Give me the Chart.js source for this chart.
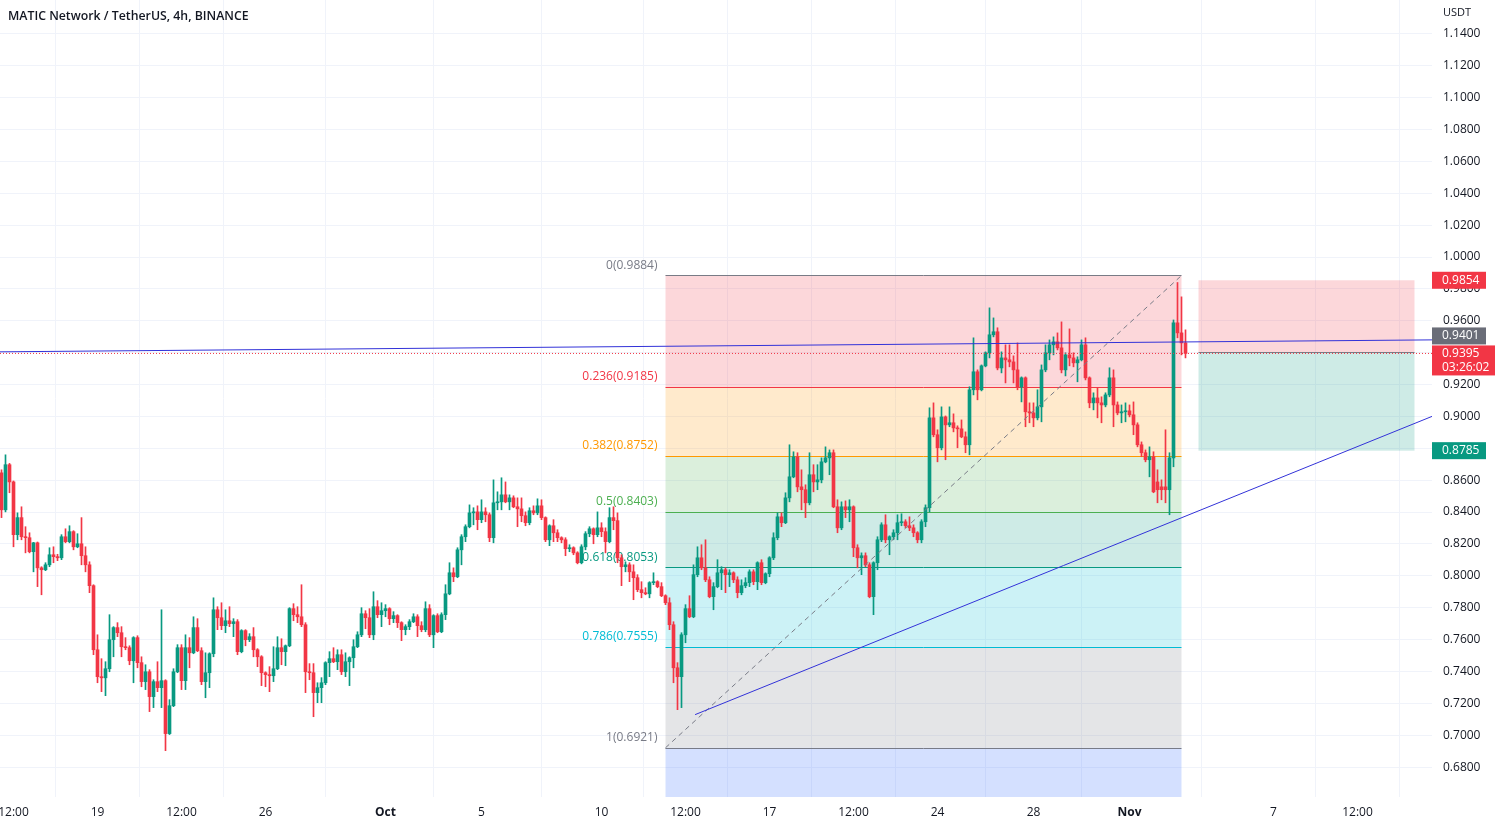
<!DOCTYPE html>
<html><head><meta charset="utf-8">
<script src="https://cdn.jsdelivr.net/npm/chart.js@4.4.0/dist/chart.umd.min.js"></script>
<style>html,body{margin:0;padding:0;background:#fff;}#wrap{position:relative;width:1500px;height:826px;}canvas{display:block;}</style>
</head><body><div id="wrap"><canvas id="c" width="1500" height="826"></canvas></div>
<script>
// ---- data: MATIC/USDT 4h candles (Sep 15 00:00 .. Nov 3 08:00) ----
const openP = [
0.8646,0.8414,0.8697,0.8589,0.8258,0.8365,0.8245,0.8239,0.8151,0.8207,
0.8050,0.8038,0.8069,0.8132,0.8120,0.8113,0.8245,0.8214,0.8277,0.8182,
0.8201,0.8126,0.8069,0.7938,0.7536,0.7367,0.7360,0.7417,0.7599,0.7675,
0.7643,0.7555,0.7549,0.7467,0.7612,0.7455,0.7336,0.7398,0.7242,0.7336,
0.7298,0.7342,0.7010,0.7185,0.7398,0.7549,0.7342,0.7549,0.7517,0.7675,
0.7530,0.7336,0.7392,0.7511,0.7787,0.7737,0.7687,0.7718,0.7700,0.7712,
0.7524,0.7656,0.7599,0.7618,0.7536,0.7492,0.7392,0.7380,0.7373,0.7417,
0.7549,0.7524,0.7561,0.7794,0.7756,0.7743,0.7693,0.7398,0.7392,0.7267,
0.7298,0.7329,0.7455,0.7480,0.7461,0.7505,0.7398,0.7461,0.7486,0.7555,
0.7630,0.7762,0.7737,0.7630,0.7806,0.7756,0.7781,0.7794,0.7731,0.7750,
0.7706,0.7662,0.7681,0.7712,0.7743,0.7687,0.7662,0.7794,0.7630,0.7750,
0.7649,0.7756,0.7887,0.8019,0.7994,0.8163,0.8245,0.8308,0.8395,0.8401,
0.8352,0.8401,0.8383,0.8239,0.8458,0.8464,0.8508,0.8464,0.8489,0.8433,
0.8420,0.8377,0.8333,0.8408,0.8395,0.8439,0.8365,0.8226,0.8314,0.8270,
0.8239,0.8226,0.8170,0.8176,0.8144,0.8082,0.8182,0.8264,0.8295,0.8258,
0.8301,0.8277,0.8214,0.8365,0.8346,0.8113,0.8057,0.8069,0.8025,0.7988,
0.7913,0.7894,0.7887,0.7957,0.7963,0.7932,0.7875,0.7831,0.7693,0.7423,
0.7367,0.7630,0.7794,0.7743,0.8007,0.8113,0.8050,0.7975,0.7869,0.7932,
0.8019,0.8038,0.8007,0.8019,0.7975,0.7894,0.7938,0.7957,0.8025,0.7963,
0.8082,0.7957,0.8013,0.8113,0.8239,0.8370,0.8333,0.8489,0.8621,0.8747,
0.8558,0.8540,0.8458,0.8634,0.8589,0.8602,0.8715,0.8740,0.8772,0.8433,
0.8301,0.8433,0.8414,0.8433,0.8176,0.8113,0.8126,0.8069,0.7869,0.8082,
0.8226,0.8320,0.8226,0.8245,0.8270,0.8333,0.8339,0.8314,0.8301,0.8270,
0.8226,0.8339,0.8427,0.8991,0.8885,0.8803,0.8997,0.8947,0.8960,0.8928,
0.8922,0.8872,0.8822,0.9167,0.9280,0.9167,0.9317,0.9399,0.9512,0.9531,
0.9304,0.9367,0.9355,0.9342,0.9292,0.9185,0.9242,0.9029,0.9022,0.8991,
0.9060,0.9292,0.9399,0.9449,0.9468,0.9430,0.9292,0.9386,0.9367,0.9336,
0.9355,0.9449,0.9242,0.9085,0.9116,0.9085,0.9072,0.9135,0.9242,0.9072,
0.9022,0.9029,0.9035,0.9010,0.8947,0.8822,0.8772,0.8728,0.8747,0.8589,
0.8558,0.8558,0.8540,0.8740,0.9587,0.9524,0.9461];
const highP = [
0.8665,0.8759,0.8705,0.8595,0.8395,0.8433,0.8308,0.8270,0.8210,0.8212,
0.8057,0.8082,0.8176,0.8182,0.8135,0.8258,0.8295,0.8314,0.8283,0.8264,
0.8365,0.8182,0.8088,0.7944,0.7630,0.7480,0.7461,0.7756,0.7681,0.7706,
0.7681,0.7612,0.7561,0.7618,0.7624,0.7492,0.7442,0.7411,0.7348,0.7461,
0.7787,0.7348,0.7223,0.7417,0.7568,0.7568,0.7630,0.7612,0.7743,0.7731,
0.7549,0.7517,0.7517,0.7862,0.7806,0.7831,0.7787,0.7806,0.7731,0.7725,
0.7662,0.7662,0.7637,0.7675,0.7543,0.7499,0.7398,0.7430,0.7555,0.7618,
0.7605,0.7566,0.7800,0.7825,0.7806,0.7944,0.7706,0.7449,0.7449,0.7329,
0.7361,0.7461,0.7524,0.7549,0.7536,0.7536,0.7517,0.7492,0.7599,0.7649,
0.7800,0.7781,0.7794,0.7900,0.7844,0.7831,0.7819,0.7800,0.7775,0.7756,
0.7712,0.7693,0.7725,0.7762,0.7756,0.7712,0.7837,0.7819,0.7756,0.7762,
0.7768,0.7944,0.8082,0.8050,0.8176,0.8258,0.8320,0.8445,0.8427,0.8439,
0.8477,0.8427,0.8395,0.8602,0.8527,0.8615,0.8589,0.8508,0.8502,0.8489,
0.8489,0.8401,0.8427,0.8439,0.8483,0.8477,0.8370,0.8320,0.8352,0.8289,
0.8245,0.8239,0.8195,0.8182,0.8151,0.8195,0.8277,0.8308,0.8301,0.8401,
0.8333,0.8301,0.8427,0.8433,0.8395,0.8132,0.8088,0.8082,0.8069,0.8007,
0.7963,0.7925,0.7963,0.8019,0.7969,0.7957,0.7881,0.7862,0.7712,0.7455,
0.7643,0.7819,0.7875,0.8069,0.8182,0.8195,0.8226,0.7994,0.7957,0.8101,
0.8057,0.8050,0.8038,0.8025,0.7994,0.7975,0.7988,0.8038,0.8038,0.8088,
0.8101,0.8019,0.8120,0.8270,0.8395,0.8395,0.8521,0.8822,0.8778,0.8772,
0.8665,0.8571,0.8772,0.8697,0.8697,0.8740,0.8809,0.8790,0.8790,0.8477,
0.8464,0.8470,0.8477,0.8439,0.8195,0.8144,0.8144,0.8082,0.8088,0.8245,
0.8333,0.8383,0.8251,0.8289,0.8383,0.8389,0.8352,0.8370,0.8320,0.8277,
0.8352,0.8445,0.9054,0.9085,0.8916,0.9060,0.9003,0.9060,0.9016,0.8941,
0.8978,0.8903,0.9186,0.9493,0.9292,0.9323,0.9405,0.9681,0.9618,0.9556,
0.9405,0.9449,0.9449,0.9380,0.9461,0.9248,0.9248,0.9085,0.9085,0.9167,
0.9323,0.9449,0.9480,0.9499,0.9524,0.9593,0.9399,0.9549,0.9399,0.9374,
0.9480,0.9493,0.9248,0.9148,0.9179,0.9123,0.9148,0.9305,0.9292,0.9091,
0.9072,0.9085,0.9072,0.9091,0.8960,0.8840,0.8790,0.8809,0.8778,0.8665,
0.8602,0.8916,0.8772,0.9605,0.9840,0.9750,0.9543];
const lowP = [
0.8365,0.8401,0.8521,0.8182,0.8226,0.8226,0.8144,0.8144,0.8025,0.7932,
0.7881,0.8032,0.8057,0.8082,0.8095,0.8101,0.8207,0.8207,0.8163,0.8176,
0.8069,0.8025,0.7894,0.7505,0.7329,0.7273,0.7248,0.7398,0.7492,0.7618,
0.7492,0.7536,0.7442,0.7329,0.7423,0.7304,0.7286,0.7148,0.7173,0.7273,
0.7173,0.6903,0.7004,0.7179,0.7392,0.7286,0.7286,0.7423,0.7511,0.7524,
0.7317,0.7235,0.7298,0.7492,0.7662,0.7662,0.7643,0.7681,0.7618,0.7505,
0.7517,0.7561,0.7587,0.7492,0.7430,0.7311,0.7304,0.7273,0.7336,0.7411,
0.7442,0.7436,0.7555,0.7718,0.7706,0.7681,0.7267,0.7348,0.7116,0.7204,
0.7204,0.7317,0.7367,0.7455,0.7411,0.7380,0.7367,0.7311,0.7423,0.7549,
0.7618,0.7668,0.7612,0.7599,0.7737,0.7681,0.7743,0.7693,0.7706,0.7675,
0.7593,0.7630,0.7662,0.7706,0.7618,0.7649,0.7649,0.7618,0.7549,0.7643,
0.7643,0.7725,0.7881,0.7963,0.7988,0.8069,0.8214,0.8301,0.8320,0.8289,
0.8333,0.8339,0.8214,0.8207,0.8414,0.8414,0.8458,0.8414,0.8427,0.8308,
0.8339,0.8314,0.8320,0.8383,0.8383,0.8352,0.8214,0.8189,0.8214,0.8214,
0.8207,0.8126,0.8151,0.8132,0.8075,0.8075,0.8163,0.8245,0.8201,0.8245,
0.8245,0.8144,0.8207,0.8289,0.8082,0.7938,0.8025,0.7963,0.7850,0.7900,
0.7862,0.7881,0.7862,0.7944,0.7925,0.7869,0.7819,0.7662,0.7329,0.7160,
0.7173,0.7580,0.7737,0.7737,0.7994,0.8038,0.7963,0.7862,0.7787,0.7925,
0.7913,0.7894,0.7932,0.7957,0.7862,0.7881,0.7925,0.7932,0.7944,0.7913,
0.7944,0.7950,0.7994,0.8101,0.8226,0.8308,0.8327,0.8464,0.8615,0.8527,
0.8414,0.8365,0.8445,0.8527,0.8540,0.8583,0.8709,0.8634,0.8427,0.8270,
0.8289,0.8365,0.8339,0.8120,0.8050,0.8007,0.8057,0.7862,0.7756,0.8038,
0.8214,0.8207,0.8132,0.8226,0.8226,0.8314,0.8301,0.8283,0.8245,0.8207,
0.8207,0.8308,0.8401,0.8872,0.8715,0.8790,0.8728,0.8935,0.8903,0.8803,
0.8866,0.8772,0.8759,0.9135,0.9104,0.9160,0.9311,0.9367,0.9499,0.9292,
0.9273,0.9210,0.9311,0.9210,0.9167,0.9091,0.8935,0.8960,0.8935,0.8978,
0.8966,0.9280,0.9355,0.9386,0.9417,0.9273,0.9254,0.9317,0.9311,0.9217,
0.9348,0.9229,0.9054,0.9041,0.8991,0.8960,0.9060,0.9123,0.8935,0.9010,
0.8960,0.8966,0.8997,0.8885,0.8809,0.8747,0.8715,0.8621,0.8521,0.8458,
0.8477,0.8458,0.8383,0.8684,0.9493,0.9386,0.9367];
const closeP = [
0.8414,0.8697,0.8589,0.8258,0.8365,0.8245,0.8239,0.8151,0.8207,0.8050,
0.8038,0.8069,0.8132,0.8120,0.8113,0.8245,0.8214,0.8277,0.8182,0.8201,
0.8126,0.8069,0.7938,0.7536,0.7367,0.7360,0.7417,0.7599,0.7675,0.7643,
0.7555,0.7549,0.7467,0.7612,0.7455,0.7336,0.7398,0.7242,0.7336,0.7298,
0.7342,0.7010,0.7185,0.7398,0.7549,0.7342,0.7549,0.7517,0.7675,0.7530,
0.7336,0.7392,0.7511,0.7787,0.7737,0.7687,0.7718,0.7700,0.7712,0.7524,
0.7656,0.7599,0.7618,0.7536,0.7492,0.7392,0.7380,0.7373,0.7417,0.7549,
0.7524,0.7561,0.7794,0.7756,0.7743,0.7693,0.7398,0.7392,0.7267,0.7298,
0.7329,0.7455,0.7480,0.7461,0.7505,0.7398,0.7461,0.7486,0.7555,0.7630,
0.7762,0.7737,0.7630,0.7806,0.7756,0.7781,0.7794,0.7731,0.7750,0.7706,
0.7662,0.7681,0.7712,0.7743,0.7687,0.7662,0.7794,0.7630,0.7750,0.7649,
0.7756,0.7887,0.8019,0.7994,0.8163,0.8245,0.8308,0.8395,0.8401,0.8352,
0.8401,0.8383,0.8239,0.8458,0.8464,0.8508,0.8464,0.8489,0.8433,0.8420,
0.8377,0.8333,0.8408,0.8395,0.8439,0.8365,0.8226,0.8314,0.8270,0.8239,
0.8226,0.8170,0.8176,0.8144,0.8082,0.8182,0.8264,0.8295,0.8258,0.8301,
0.8277,0.8214,0.8365,0.8346,0.8113,0.8057,0.8069,0.8025,0.7988,0.7913,
0.7894,0.7887,0.7957,0.7963,0.7932,0.7875,0.7831,0.7693,0.7423,0.7367,
0.7630,0.7794,0.7743,0.8007,0.8113,0.8050,0.7975,0.7869,0.7932,0.8019,
0.8038,0.8007,0.8019,0.7975,0.7894,0.7938,0.7957,0.8025,0.7963,0.8082,
0.7957,0.8013,0.8113,0.8239,0.8370,0.8333,0.8489,0.8621,0.8747,0.8558,
0.8540,0.8458,0.8634,0.8589,0.8602,0.8715,0.8740,0.8772,0.8433,0.8301,
0.8433,0.8414,0.8433,0.8176,0.8113,0.8126,0.8069,0.7869,0.8082,0.8226,
0.8320,0.8226,0.8245,0.8270,0.8333,0.8339,0.8314,0.8301,0.8270,0.8226,
0.8339,0.8427,0.8991,0.8885,0.8803,0.8997,0.8947,0.8960,0.8928,0.8922,
0.8872,0.8822,0.9167,0.9280,0.9167,0.9317,0.9399,0.9512,0.9531,0.9304,
0.9367,0.9355,0.9342,0.9292,0.9185,0.9242,0.9029,0.9022,0.8991,0.9060,
0.9292,0.9399,0.9449,0.9468,0.9430,0.9292,0.9386,0.9367,0.9336,0.9355,
0.9449,0.9242,0.9085,0.9116,0.9085,0.9072,0.9135,0.9242,0.9072,0.9022,
0.9029,0.9035,0.9010,0.8947,0.8822,0.8772,0.8728,0.8747,0.8527,0.8540,
0.8540,0.8540,0.8740,0.9587,0.9524,0.9461,0.9395];

// x axis ticks (candle index -> label)
const xTickIdx = [3, 24, 45, 66, 96, 120, 150, 171, 192, 213, 234, 258, 282, 318, 339];
const xTickLabels = ['12:00','19','12:00','26','Oct','5','10','12:00','17','12:00','24','28','Nov','7','12:00'];
const boldLabels = ['Oct','Nov'];
// price axis ticks
const priceTicks = [0.68,0.70,0.72,0.74,0.76,0.78,0.80,0.82,0.84,0.86,0.88,0.90,0.92,0.94,0.96,0.98,1.00,1.02,1.04,1.06,1.08,1.10,1.12,1.14];

// Fibonacci retracement
const fibLevels = [0, 0.236, 0.382, 0.5, 0.618, 0.786, 1, 1.618];
const fibPrices = [0.9884, 0.9185, 0.8752, 0.8403, 0.8053, 0.7555, 0.6921, 0.5090];
const fibColors = ['#787b86','#f23645','#ff9800','#4caf50','#089981','#00bcd4','#787b86','#2962ff'];
const fibRange = [166, 295];

// drawings
const diagX = [166, 295], diagY = [0.6921, 0.9884];
const trendX = [173.4, 357.625], trendY = [0.7129, 0.9000];
const resX = [-0.375, 357.625], resY = [0.9405, 0.9480];
const lastPrice = 0.9395, countdown = '03:26:02';
const posX = [299.25, 353.25];
const posStop = 0.9854, posEntry = 0.9401, posTarget = 0.8785;

// ---- chart ----
const GREEN = '#089981', RED = '#f23645', TXT = '#131722', GRID = '#f0f3fa';
const FONT = "'Open Sans', 'Noto Sans', sans-serif";
Chart.defaults.font.family = FONT;
const idx = closeP.map((_, i) => i);
const candleColor = c => closeP[c.dataIndex] >= openP[c.dataIndex] ? GREEN : RED;
function rgba(hex, a) {
  const n = parseInt(hex.slice(1), 16);
  return `rgba(${(n >> 16) & 255},${(n >> 8) & 255},${n & 255},${a})`;
}
function noPad(s) { s.paddingLeft = 0; s.paddingRight = 0; s.paddingTop = 0; s.paddingBottom = 0; }

const overlayPlugin = {
  id: 'overlay',
  beforeDatasetsDraw(chart) {
    const { ctx, chartArea: a, scales: { x, y } } = chart;
    ctx.save();
    ctx.beginPath(); ctx.rect(a.left, a.top, a.right - a.left, a.bottom - a.top); ctx.clip();
    const x0 = x.getPixelForValue(fibRange[0]), x1 = x.getPixelForValue(fibRange[1]);
    for (let k = 0; k < fibPrices.length - 1; k++) {
      const ya = y.getPixelForValue(fibPrices[k]), yb = y.getPixelForValue(fibPrices[k + 1]);
      ctx.fillStyle = rgba(fibColors[k + 1], 0.2);
      ctx.fillRect(x0, ya, x1 - x0, yb - ya);
    }
    ctx.lineWidth = 1;
    for (let k = 0; k < fibPrices.length; k++) {
      const yy = Math.round(y.getPixelForValue(fibPrices[k])) + 0.5;
      ctx.strokeStyle = fibColors[k];
      ctx.beginPath(); ctx.moveTo(x0, yy); ctx.lineTo(x1, yy); ctx.stroke();
    }
    ctx.font = `12px ${FONT}`;
    ctx.textAlign = 'right'; ctx.textBaseline = 'middle';
    for (let k = 0; k < fibLevels.length - 1; k++) {
      const yy = y.getPixelForValue(fibPrices[k]);
      ctx.fillStyle = fibColors[k];
      ctx.fillText(`${fibLevels[k]}(${fibPrices[k].toFixed(4)})`, x0 - 8, yy - 10);
    }
    // short position tool
    const p0 = x.getPixelForValue(posX[0]), p1 = x.getPixelForValue(posX[1]);
    const ys = y.getPixelForValue(posStop), ye = y.getPixelForValue(posEntry), yt = y.getPixelForValue(posTarget);
    ctx.fillStyle = rgba(RED, 0.2); ctx.fillRect(p0, ys, p1 - p0, ye - ys);
    ctx.fillStyle = rgba(GREEN, 0.2); ctx.fillRect(p0, ye, p1 - p0, yt - ye);
    ctx.strokeStyle = '#787b86';
    ctx.beginPath(); ctx.moveTo(p0, Math.round(ye) + 0.5); ctx.lineTo(p1, Math.round(ye) + 0.5); ctx.stroke();
    ctx.restore();
  },
  afterDraw(chart) {
    const { ctx, chartArea: a, scales: { y } } = chart;
    ctx.save();
    ctx.textBaseline = 'middle'; ctx.textAlign = 'left';
    const L = a.right;
    const box = (yc, h, w, color, lines) => {
      ctx.fillStyle = color;
      ctx.fillRect(L, yc - h / 2, w, h);
      ctx.fillStyle = '#ffffff';
      ctx.font = `12px ${FONT}`;
      lines.forEach((t, i) => ctx.fillText(t, L + 10, yc - (lines.length - 1) * 7 + i * 14));
    };
    const yLast = y.getPixelForValue(lastPrice);
    box(y.getPixelForValue(posStop), 17, 54, RED, [posStop.toFixed(4)]);
    box(y.getPixelForValue(posTarget), 17, 54, GREEN, [posTarget.toFixed(4)]);
    const lastTop = yLast - 8;
    box(lastTop + 15, 30, 63, RED, [lastPrice.toFixed(4), countdown]);
    box(lastTop - 1 - 8.5, 17, 54, '#6a6d78', [posEntry.toFixed(4)]);
    ctx.fillStyle = TXT;
    ctx.font = `11px ${FONT}`;
    ctx.fillText('USDT', L + 11, 13);
    ctx.font = `600 12.3px ${FONT}`;
    ctx.fillText('MATIC Network / TetherUS, 4h, BINANCE', 8, 16);
    ctx.restore();
  }
};

new Chart(document.getElementById('c'), {
  type: 'bar',
  data: {
    datasets: [
      { type: 'line', data: resX.map((v, i) => ({ x: v, y: resY[i] })), borderColor: '#3232d8', borderWidth: 1, pointRadius: 0, order: 1 },
      { type: 'line', data: trendX.map((v, i) => ({ x: v, y: trendY[i] })), borderColor: '#3232d8', borderWidth: 1, pointRadius: 0, order: 1 },
      { type: 'line', data: diagX.map((v, i) => ({ x: v, y: diagY[i] })), borderColor: '#787b86', borderWidth: 1, borderDash: [5, 4], pointRadius: 0, order: 1 },
      { type: 'line', data: resX.map(v => ({ x: v, y: lastPrice })), borderColor: RED, borderWidth: 1, borderDash: [1, 2], pointRadius: 0, order: 1 },
      { type: 'bar', data: idx.map(i => ({ x: i, y: [lowP[i], highP[i]] })), backgroundColor: candleColor, barThickness: 1, grouped: false, borderWidth: 0, order: 3 },
      { type: 'bar', data: idx.map(i => ({ x: i, y: [openP[i], closeP[i]] })), backgroundColor: candleColor, barThickness: 3, grouped: false, borderWidth: 0, minBarLength: 1, order: 2 }
    ]
  },
  options: {
    responsive: false, devicePixelRatio: 1, animation: false,
    layout: { padding: 0 },
    plugins: { legend: { display: false }, tooltip: { enabled: false } },
    scales: {
      x: {
        type: 'linear', min: -0.375, max: 357.625, offset: false,
        grid: { color: GRID, drawTicks: false }, border: { display: false },
        afterBuildTicks: s => { s.ticks = xTickIdx.map(v => ({ value: v })); },
        afterFit: s => { s.height = 29; noPad(s); },
        ticks: {
          autoSkip: false, maxRotation: 0, padding: 8, color: TXT,
          font: c => ({ size: 12, weight: (c.tick && boldLabels.includes(xTickLabels[xTickIdx.indexOf(c.tick.value)])) ? 'bold' : 'normal' }),
          callback: (v) => xTickLabels[xTickIdx.indexOf(v)]
        }
      },
      y: {
        type: 'linear', position: 'right', min: 0.66123, max: 1.16123,
        grid: { color: GRID, drawTicks: false }, border: { display: false },
        afterBuildTicks: s => { s.ticks = priceTicks.map(v => ({ value: v })); },
        afterFit: s => { s.width = 68; noPad(s); },
        ticks: { padding: 11, color: TXT, font: { size: 12 }, callback: v => v.toFixed(4) }
      }
    }
  },
  plugins: [overlayPlugin]
});
</script>
</body></html>
